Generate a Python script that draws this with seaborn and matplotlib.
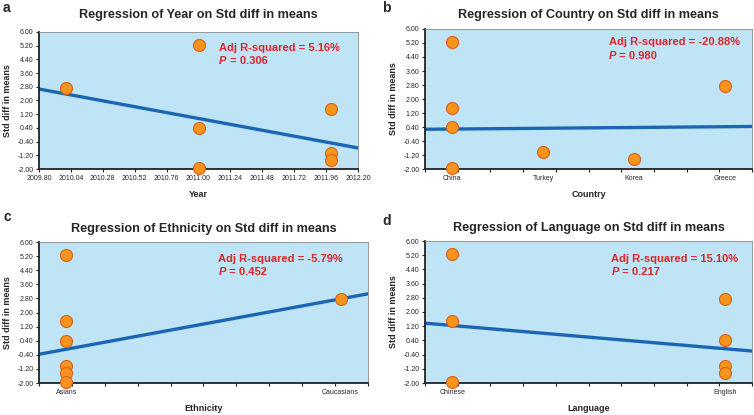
import numpy as np
import pandas as pd
import matplotlib
matplotlib.use("Agg")
import matplotlib.pyplot as plt
import seaborn as sns

# Study-level data (7 studies)
effect = [5.25, 2.75, 1.50, 0.40, -1.05, -1.45, -1.95]
year = [2011, 2010, 2012, 2011, 2012, 2012, 2011]
country = ["China", "Greece", "China", "China", "Turkey", "Korea", "China"]
ethnicity = ["Asians", "Caucasians", "Asians", "Asians", "Asians", "Asians", "Asians"]
language = ["Chinese", "English", "Chinese", "English", "English", "English", "Chinese"]

country_order = ["China", "Turkey", "Korea", "Greece"]
ethnicity_order = ["Asians", "Caucasians"]
language_order = ["Chinese", "English"]

# Fitted meta-regression lines (endpoints at axis limits)
fit_a_x = [2009.80, 2012.20]
fit_a_y = [2.67, -0.77]
fit_b_x = [0.70, 4.30]
fit_b_y = [0.27, 0.43]
fit_c_x = [0.90, 2.10]
fit_c_y = [-0.37, 3.06]
fit_d_x = [0.90, 2.10]
fit_d_y = [1.37, -0.20]

stats_a = ("5.16%", "0.306")
stats_b = ("-20.88%", "0.980")
stats_c = ("-5.79%", "0.452")
stats_d = ("15.10%", "0.217")

sns.set_theme(style="white")
plt.rcParams["font.family"] = ["Liberation Sans", "DejaVu Sans"]

BG = "#bfe4f5"
ORANGE = "#f7941d"
EDGE = "#d8601a"
BLUE = "#1a66b3"
RED = "#d9252b"

fig = plt.figure(figsize=(7.54, 4.15), dpi=100)
W, H = 754, 415


def make_ax(left, right, top, bottom):
    return fig.add_axes([left / W, 1 - bottom / H, (right - left) / W, (bottom - top) / H])


df = pd.DataFrame({"effect": effect, "year": year, "country": country,
                   "ethnicity": ethnicity, "language": language})
df["country_pos"] = df["country"].map({c: i + 1 for i, c in enumerate(country_order)})
df["ethnicity_pos"] = df["ethnicity"].map({c: i + 1 for i, c in enumerate(ethnicity_order)})
df["language_pos"] = df["language"].map({c: i + 1 for i, c in enumerate(language_order)})


def style_panel(ax, title, xlabel, stats, tx, ty, tpad):
    ax.set_facecolor(BG)
    ax.set_ylim(-2.0, 6.0)
    yt = np.arange(-2.0, 6.01, 0.8)
    ax.set_yticks(yt)
    ax.set_yticklabels([f"{v:.2f}" for v in yt])
    for s in ["left", "bottom"]:
        ax.spines[s].set_color("#222222")
        ax.spines[s].set_linewidth(1.3)
    for s in ["top", "right"]:
        ax.spines[s].set_color("#8a8a8a")
        ax.spines[s].set_linewidth(0.6)
    ax.tick_params(axis="both", which="both", labelsize=5, direction="out",
                   length=2.5, width=0.8, color="#222222", pad=1.5,
                   bottom=True, left=True)
    ax.set_title(title, fontsize=9.1, fontweight="bold", pad=tpad)
    ax.set_xlabel(xlabel, fontsize=6.5, fontweight="bold", labelpad=6)
    ax.set_ylabel("Std diff in means", fontsize=6.5, fontweight="bold", labelpad=4)
    ax.text(tx, ty, f"Adj R-squared = {stats[0]}", transform=ax.transAxes,
            color=RED, fontsize=8, fontweight="bold", va="center")
    p = ax.text(tx, ty - 0.095, "P", transform=ax.transAxes, color=RED,
                fontsize=8, fontweight="bold", style="italic", va="center")
    ax.annotate(f" = {stats[1]}", xy=(1, 0.5), xycoords=p, color=RED,
                fontsize=8, fontweight="bold", va="center")


def draw(ax, xcol, fx, fy):
    sns.lineplot(x=fx, y=fy, ax=ax, color=BLUE, linewidth=2.4)
    sns.scatterplot(data=df, x=xcol, y="effect", ax=ax, s=75, color=ORANGE,
                    edgecolor=EDGE, linewidth=0.8, clip_on=False, zorder=5)


# a: Year
ax_a = make_ax(39, 358, 32, 169)
draw(ax_a, "year", fit_a_x, fit_a_y)
ax_a.set_xlim(2009.80, 2012.20)
xt = np.linspace(2009.80, 2012.20, 11)
ax_a.set_xticks(xt)
ax_a.set_xticklabels([f"{v:.2f}" for v in xt])
style_panel(ax_a, "Regression of Year on Std diff in means", "Year",
            stats_a, 0.565, 0.88, 10)

# b: Country
ax_b = make_ax(425, 752, 29, 169)
draw(ax_b, "country_pos", fit_b_x, fit_b_y)
ax_b.set_xlim(0.70, 4.30)
ax_b.set_xticks(range(1, len(country_order) + 1))
ax_b.set_xticklabels(country_order)
ax_b.set_xticks(np.linspace(0.70, 4.30, 11), minor=True)
style_panel(ax_b, "Regression of Country on Std diff in means", "Country",
            stats_b, 0.563, 0.905, 8)
ax_b.tick_params(axis="x", which="major", length=0, pad=4)

# c: Ethnicity
ax_c = make_ax(39, 368, 242, 383)
draw(ax_c, "ethnicity_pos", fit_c_x, fit_c_y)
ax_c.set_xlim(0.90, 2.10)
ax_c.set_xticks(range(1, len(ethnicity_order) + 1))
ax_c.set_xticklabels(ethnicity_order)
ax_c.set_xticks(np.linspace(0.90, 2.10, 11), minor=True)
style_panel(ax_c, "Regression of Ethnicity on Std diff in means", "Ethnicity",
            stats_c, 0.545, 0.88, 7)
ax_c.tick_params(axis="x", which="major", length=0, pad=4)

# d: Language
ax_d = make_ax(425, 752, 241, 383)
draw(ax_d, "language_pos", fit_d_x, fit_d_y)
ax_d.set_xlim(0.90, 2.10)
ax_d.set_xticks(range(1, len(language_order) + 1))
ax_d.set_xticklabels(language_order)
ax_d.set_xticks(np.linspace(0.90, 2.10, 11), minor=True)
style_panel(ax_d, "Regression of Language on Std diff in means", "Language",
            stats_d, 0.57, 0.875, 7)
ax_d.tick_params(axis="x", which="major", length=0, pad=4)

# panel letters
for letter, px, py in [("a", 3, 8), ("b", 382, 8), ("c", 3, 217), ("d", 382, 221)]:
    fig.text(px / W, 1 - py / H, letter, fontsize=10, fontweight="bold",
             ha="left", va="center")

fig.savefig("out.png", dpi=100, facecolor="white")
